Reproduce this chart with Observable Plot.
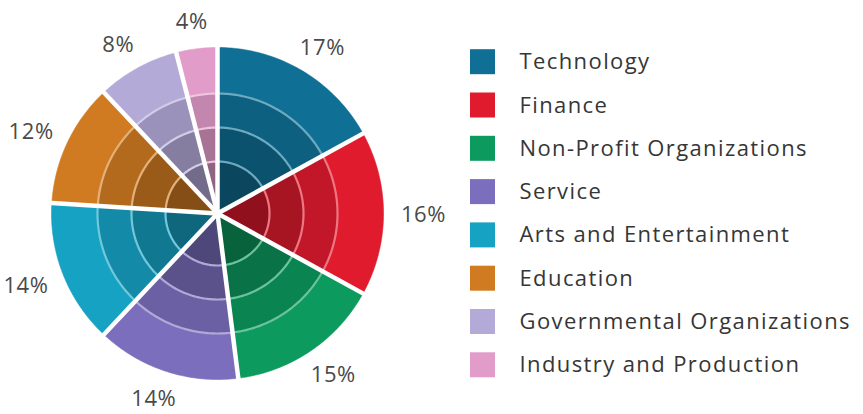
<!DOCTYPE html>
<html>
<head>
<meta charset="utf-8">
<script src="https://cdn.jsdelivr.net/npm/d3@7"></script>
<script src="https://cdn.jsdelivr.net/npm/@observablehq/plot@0.6"></script>
<style>
  html, body { margin: 0; padding: 0; background: #fff; }
  #chart svg { display: block; }
</style>
</head>
<body>
<div id="chart"></div>
<script>
// ---- data ----
const categories = [
  "Technology", "Finance", "Non-Profit Organizations", "Service",
  "Arts and Entertainment", "Education", "Governmental Organizations",
  "Industry and Production"
];
const shares = [17, 16, 15, 14, 14, 12, 8, 4];
const colors = ["#0f6f95", "#e11b2e", "#0c9a5e", "#7b6fbd", "#16a2c3", "#d07b22", "#b3aad8", "#e29cca"];

// ---- layout ----
const W = 863, H = 414;
const cx = 217, cy = 213;          // pie centre in pixels
const R = 166;                     // outer radius
const ringR = [0, 52, 86, 120, R]; // band boundaries
const labelRx = 206, labelRy = 194;
const fontFamily = "'Open Sans', Lato, sans-serif";

const total = d3.sum(shares);
const toRad = Math.PI / 180;
let acc = 0;
const slices = categories.map((c, i) => {
  const a0 = acc / total * 360;
  acc += shares[i];
  const a1 = acc / total * 360;
  return {c, i, v: shares[i], a0, a1, mid: (a0 + a1) / 2, color: colors[i]};
});
const pt = (r, deg) => [r * Math.sin(deg * toRad), r * Math.cos(deg * toRad)];

// bands (filled polygons)
const bandPts = [];
const ringPts = [];
slices.forEach(s => {
  const n = Math.max(4, Math.ceil(s.a1 - s.a0));
  for (let b = 0; b < 4; b++) {
    const r0 = ringR[b], r1 = ringR[b + 1];
    const shade = d3.color(s.color).darker(0.42 * (3 - b)).formatHex();
    const id = s.i + "-" + b;
    for (let k = 0; k <= n; k++) {
      const a = s.a0 + (s.a1 - s.a0) * k / n;
      const [x, y] = pt(r1, a);
      bandPts.push({id, x, y, fill: shade});
    }
    if (r0 === 0) bandPts.push({id, x: 0, y: 0, fill: shade});
    else for (let k = n; k >= 0; k--) {
      const a = s.a0 + (s.a1 - s.a0) * k / n;
      const [x, y] = pt(r0, a);
      bandPts.push({id, x, y, fill: shade});
    }
    if (b > 0) {
      const rc = d3.interpolateRgb(s.color, "#ffffff")(0.4);
      for (let k = 0; k <= n; k++) {
        const a = s.a0 + (s.a1 - s.a0) * k / n;
        const [x, y] = pt(r0, a);
        ringPts.push({id, x, y, stroke: rc});
      }
    }
  }
});

const seps = slices.map(s => {
  const [x, y] = pt(R + 4, s.a0);
  return {x, y};
});

const labels = slices.map(s => ({
  x: labelRx * Math.sin(s.mid * toRad),
  y: labelRy * Math.cos(s.mid * toRad) - 1,
  t: s.v + "%"
}));

const rowH = 43.3, row0 = 61.7;
const legend = slices.map(s => ({
  c: s.c, color: s.color,
  y: cy - (row0 + s.i * rowH)
}));
const swX1 = 470 - cx, swX2 = 495 - cx, txtX = 519 - cx;

const chart = Plot.plot({
  width: W, height: H,
  margin: 0,
  x: {domain: [-cx, W - cx], axis: null},
  y: {domain: [cy - H, cy], axis: null},
  color: {type: "identity"},
  style: {fontFamily, background: "#fff"},
  marks: [
    Plot.line(bandPts, {x: "x", y: "y", z: "id", fill: "fill", stroke: "fill", strokeWidth: 0.6, curve: "linear-closed"}),
    Plot.line(ringPts, {x: "x", y: "y", z: "id", stroke: "stroke", strokeWidth: 2.2, fill: "none"}),
    Plot.link(seps, {x1: 0, y1: 0, x2: "x", y2: "y", stroke: "#ffffff", strokeWidth: 4.5}),
    Plot.text(labels, {x: "x", y: "y", text: "t", fontSize: 22, fill: "#4a4a4a", textAnchor: "middle", className: "pct"}),
    Plot.rect(legend, {x1: swX1, x2: swX2, y1: d => d.y - 12.5, y2: d => d.y + 12.5, fill: "color"}),
    Plot.text(legend, {x: txtX, y: "y", text: "c", fontSize: 22, fill: "#363636", textAnchor: "start", className: "leg"})
  ]
});
d3.select(chart).selectAll(".pct text").style("letter-spacing", "0.6px");
d3.select(chart).selectAll(".leg text").style("letter-spacing", "1.4px");
document.getElementById("chart").appendChild(chart);
</script>
</body>
</html>
